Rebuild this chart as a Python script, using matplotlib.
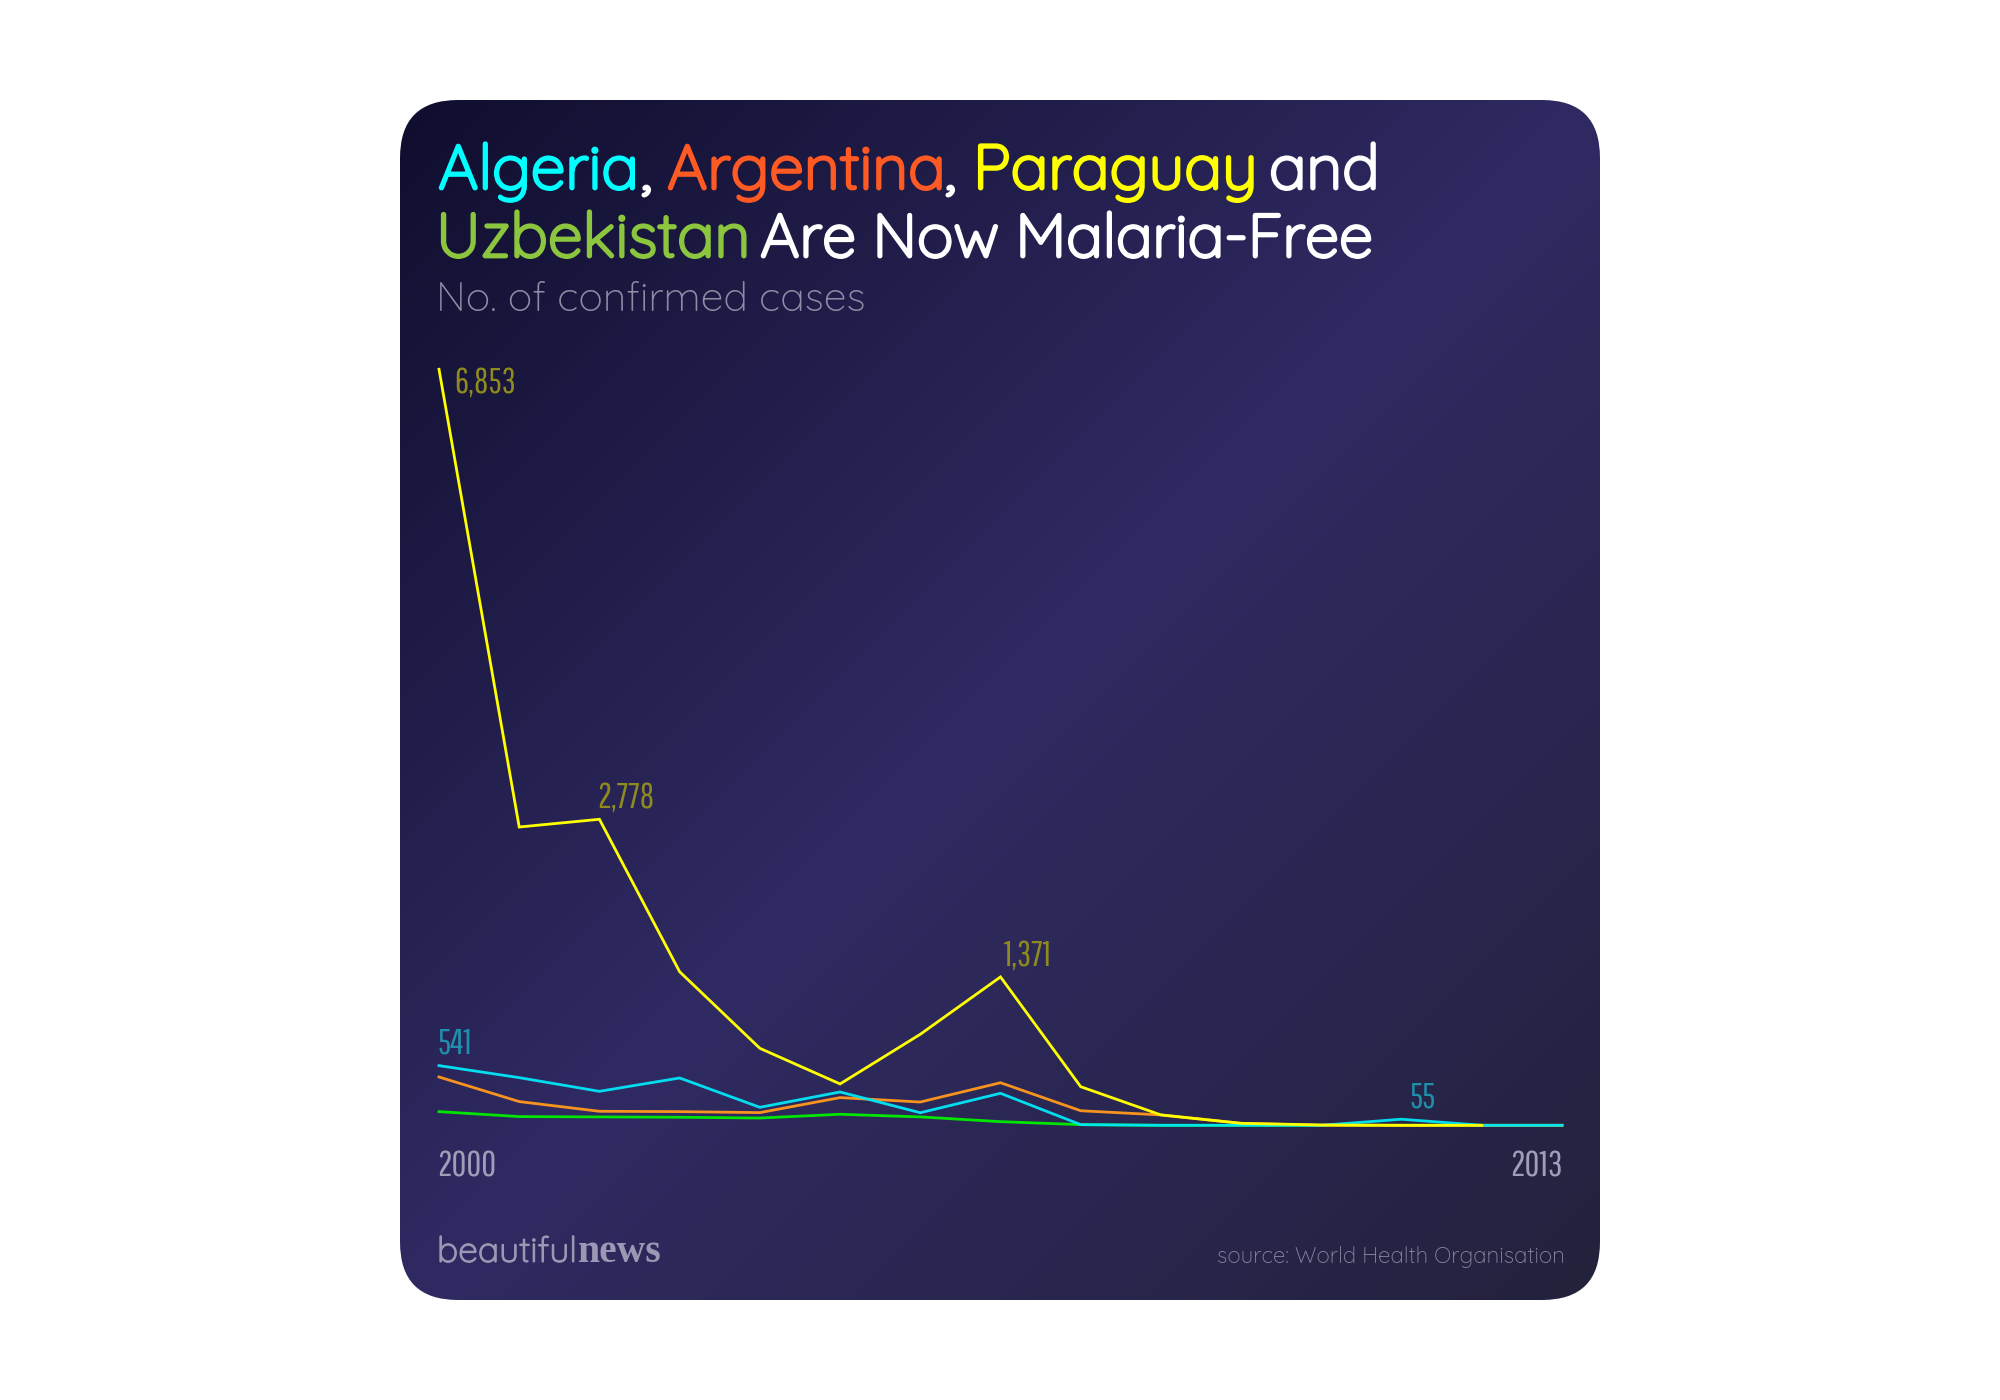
import numpy as np
import matplotlib
matplotlib.use("Agg")
import matplotlib.pyplot as plt
import matplotlib.patheffects as pe
from matplotlib.colors import LinearSegmentedColormap
from matplotlib.patches import FancyBboxPatch

W, H = 2000, 1400

# years run along the x axis, one point per step
steps = list(range(15))
algeria = [541, 432, 308, 429, 163, 302, 114, 290, 6, 0, 0, 0, 55, 0, 0]
argentina = [438, 215, 127, 124, 115, 251, 211, 386, 132, 94, 18, 0, 0, 0, 0]
uzbekistan = [124, 79, 76, 73, 66, 100, 76, 33, 6, 0, 0, 0, 0, 0, 0]
paraguay = [6853, 2704, 2774, 1392, 698, 375, 825, 1345, 350, 94, 18, 3, 0, 0]

# (text, x px, colour, size) per title piece
title_line1 = [("Algeria", 438, "#00ffff", 45), (",", 641, "#ffffff", 45),
               ("Argentina", 667, "#ff5a24", 45), (",", 945, "#ffffff", 45),
               ("Paraguay", 973, "#ffff00", 45.5), ("and", 1269, "#ffffff", 45)]
title_line2 = [("Uzbekistan", 436, "#8cc63f", 45), ("Are Now Malaria-Free", 760, "#ffffff", 44)]

ROUND = ["Quicksand", "Lato", "DejaVu Sans"]
NARROW = ["Pathway Gothic One", "Liberation Sans", "DejaVu Sans"]


def px(x, y):
    return x / W, 1 - y / H


fig = plt.figure(figsize=(20, 14), dpi=100, facecolor="white")

# card background with a diagonal gradient
bg = fig.add_axes([0, 0, 1, 1], zorder=0)
u, v = np.meshgrid(np.linspace(0, 1, 400), np.linspace(0, 1, 400))
cmap = LinearSegmentedColormap.from_list("card", ["#100e2e", "#2f2a62", "#23223c"])
im = bg.imshow((u + v) / 2, extent=[400, 1600, 1300, 100], cmap=cmap, vmin=0, vmax=1, aspect="auto")
card = FancyBboxPatch((450, 150), 1100, 1100, boxstyle="round,pad=50,rounding_size=58",
                      transform=bg.transData, fc="none", ec="none")
bg.add_patch(card)
im.set_clip_path(card)
bg.set_xlim(0, W)
bg.set_ylim(H, 0)
bg.axis("off")

# chart area: 0..14 -> 439..1562 px, 0..6853 -> 1125..369 px
ax = fig.add_axes([439 / W, 1 - 1125.3 / H, (1562 - 439) / W, (1125.3 - 369.3) / H], zorder=1)
ax.set_xlim(0, 14)
ax.set_ylim(0, 6853)
ax.axis("off")
ax.patch.set_alpha(0)

lw = 2.0
ax.plot(steps, uzbekistan, color="#00e600", lw=lw, clip_on=False, solid_joinstyle="miter")
ax.plot(steps, argentina, color="#f7931e", lw=lw, clip_on=False, solid_joinstyle="miter")
ax.plot(steps, algeria, color="#00e8f8", lw=lw, alpha=0.95, clip_on=False, solid_joinstyle="miter")
ax.plot(steps[:len(paraguay)], paraguay, color="#ffff00", lw=lw, clip_on=False, solid_joinstyle="miter")

# value labels
for txt, x, y, col in [("6,853", 454, 382, "#8f8b1e"), ("2,778", 597, 797, "#8f8b1e"),
                       ("1,371", 1004, 955, "#8f8b1e"), ("541", 438, 1043, "#1f8fab"),
                       ("55", 1410, 1097, "#1f8fab")]:
    fig.text(*px(x, y), txt, color=col, family=NARROW, fontsize=25, va="center", ha="left")
fig.text(*px(437, 1166), "2000", color="#a19db8", family=NARROW, fontsize=26, va="center", ha="left")
fig.text(*px(1563, 1166), "2013", color="#a19db8", family=NARROW, fontsize=26, va="center", ha="right")

# title and subtitle
for pieces, base in [(title_line1, 189), (title_line2, 257)]:
    for txt, x, col, size in pieces:
        fig.text(*px(x, base), txt, color=col, family=ROUND, fontsize=size, va="baseline", ha="left",
                 path_effects=[pe.withStroke(linewidth=2.0, foreground=col)])
fig.text(*px(436, 311), "No. of confirmed cases", color="#8f8ca6", family=ROUND, fontsize=29.5,
         va="baseline", ha="left")

# footer
fig.text(*px(437, 1262), "beautiful", color="#9c98b4", family=ROUND, fontsize=25.5, va="baseline", ha="left",
         path_effects=[pe.withStroke(linewidth=0.8, foreground="#9c98b4")])
fig.text(*px(578, 1262), "news", color="#9c98b4", family="Liberation Serif", fontsize=28.5, fontweight="bold",
         va="baseline", ha="left")
fig.text(*px(1565, 1263), "source: World Health Organisation", color="#87849c", family=ROUND, fontsize=16,
         va="baseline", ha="right")

fig.savefig("out.png", dpi=100, facecolor="white")
